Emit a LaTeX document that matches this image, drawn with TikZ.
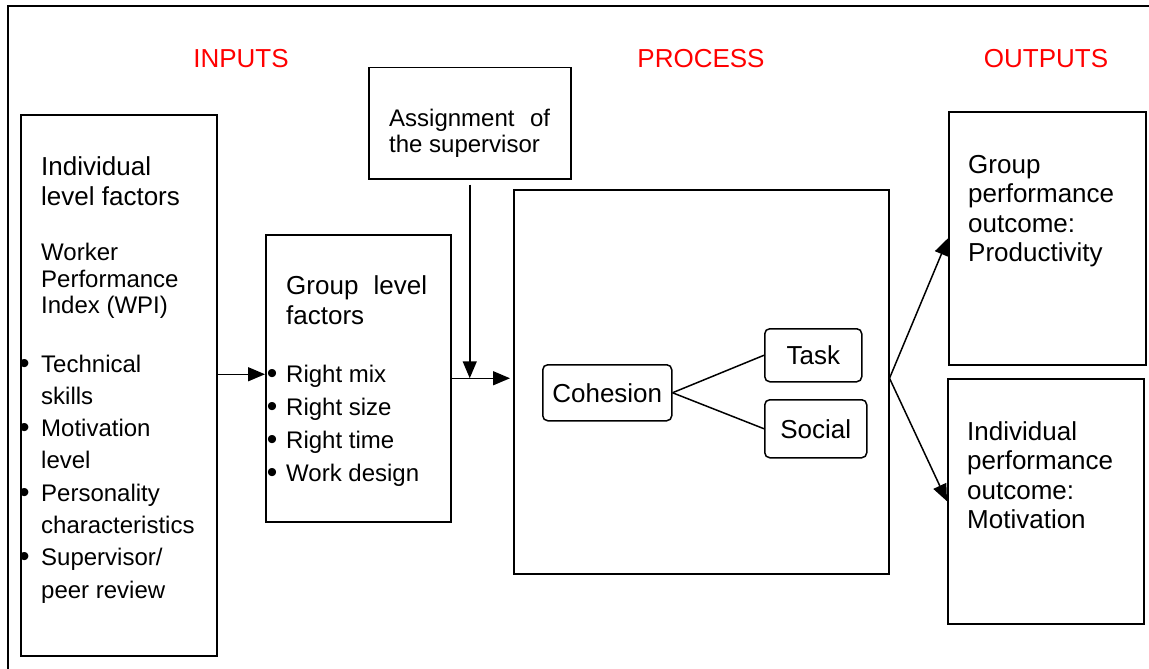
\documentclass[tikz,border=0pt]{standalone}
\usepackage{fontspec}
\setmainfont{Liberation Sans}
\usetikzlibrary{arrows.meta,positioning}

\begin{document}
\begin{tikzpicture}[
    x=1pt, y=-1pt,
    box/.style={rectangle, draw=black, line width=1.5pt, anchor=north west, inner sep=0pt},
    pill/.style={rectangle, rounded corners=5pt, draw=black, line width=1.5pt, anchor=north west, inner sep=0pt, font=\fontsize{26}{30}\selectfont},
    head/.style={text=red, inner sep=0pt, font=\fontsize{26}{30}\selectfont},
    big/.style={anchor=base west, inner sep=0pt, font=\fontsize{26}{30}\selectfont},
    small/.style={anchor=base west, inner sep=0pt, font=\fontsize{24}{28}\selectfont},
    dot/.style={anchor=base, inner sep=0pt, font=\fontsize{30}{34}\selectfont},
    arrow/.style={line width=1.5pt, -{Triangle[length=17pt,width=14pt]}},
    link/.style={line width=1.5pt}
]
\useasboundingbox (0,0) rectangle (1149,669);
\draw[line width=1.5pt] (8,669) -- (8,6) -- (1149,6);

% headings
\node[head] (inputs) at (241,59) {INPUTS};
\node[head] (process-head) at (701,59) {PROCESS};
\node[head] (outputs) at (1046,59) {OUTPUTS};

% boxes
\node[box, minimum width=196, minimum height=541] (indiv) at (20,114) {};
\node[box, minimum width=185, minimum height=287] (group) at (265,234) {};
\node[box, minimum width=202, minimum height=111] (assign) at (368,67) {};
\node[box, minimum width=375, minimum height=384] (process) at (513,189) {};
\node[box, minimum width=197, minimum height=253] (grpout) at (948,111) {};
\node[box, minimum width=196, minimum height=245] (indout) at (947,378) {};

\node[pill, minimum width=129, minimum height=56] (cohesion) at (542,364) {Cohesion};
\node[pill, minimum width=97, minimum height=53] (task) at (764,328) {Task};
\node[pill, minimum width=102, minimum height=58] (social) at (764,399) {Social};

% individual level factors
\node[big] (indiv-t1) at (41,175) {Individual};
\node[big] (indiv-t2) at (41,205) {level factors};
\node[small] (wpi1) at (41,260) {Worker};
\node[small] (wpi2) at (41,287) {Performance};
\node[small] (wpi3) at (41,313) {Index (WPI)};
\node[small] (item1) at (41,372) {Technical};
\node[small] (item2) at (41,404.3) {skills};
\node[small] (item3) at (41,436.6) {Motivation};
\node[small] (item4) at (41,468.9) {level};
\node[small] (item5) at (41,501.2) {Personality};
\node[small] (item6) at (41,533.5) {characteristics};
\node[small] (item7) at (41,565.8) {Supervisor/};
\node[small] (item8) at (41,598.1) {peer review};
\foreach \y [count=\i] in {372,436.6,501.2,565.8}
    \node[dot] (idot\i) at (24.5,\y+1) {\textbullet};

% group level factors
\node[big] (group-t1) at (286,294.7) {\makebox[141pt]{Group\hfill level}};
\node[big] (group-t2) at (286,324.7) {factors};
\foreach \t/\y [count=\i] in {Right mix/382, Right size/415, Right time/448, Work design/481} {
    \node[dot] (gdot\i) at (272,\y+1) {\textbullet};
    \node[small] (gitem\i) at (286,\y) {\t};
}

% supervisor
\node[small] (assign-t1) at (389,126.7) {\makebox[161pt]{Assignment\hfill of}};
\node[small] (assign-t2) at (389,152.7) {the supervisor};

% outputs
\node[big] (grpout-t1) at (968,173) {Group};
\node[big] (grpout-t2) at (968,202.5) {performance};
\node[big] (grpout-t3) at (968,232) {outcome:};
\node[big] (grpout-t4) at (968,261.5) {Productivity};
\node[big] (indout-t1) at (967,440) {Individual};
\node[big] (indout-t2) at (967,469.5) {performance};
\node[big] (indout-t3) at (967,499) {outcome:};
\node[big] (indout-t4) at (967,528.5) {Motivation};

% connectors
\coordinate (join) at (assign.south |- group.east);
\coordinate (fork) at (process.east |- group.east);
\draw[arrow] ([yshift=4pt]indiv.east |- group.west) -- ([yshift=4pt]group.west);
\draw[arrow, shorten >=3pt] (group.east) -- (group.east -| process.west);
\draw[arrow, shorten <=5pt] (assign.south) -- (join);
\draw[link] (cohesion.east) -- (task.west);
\draw[link] (cohesion.east) -- (social.west);
\draw[arrow] (fork) -- (grpout.west);
\draw[arrow] (fork) -- (indout.west);
\end{tikzpicture}
\end{document}
